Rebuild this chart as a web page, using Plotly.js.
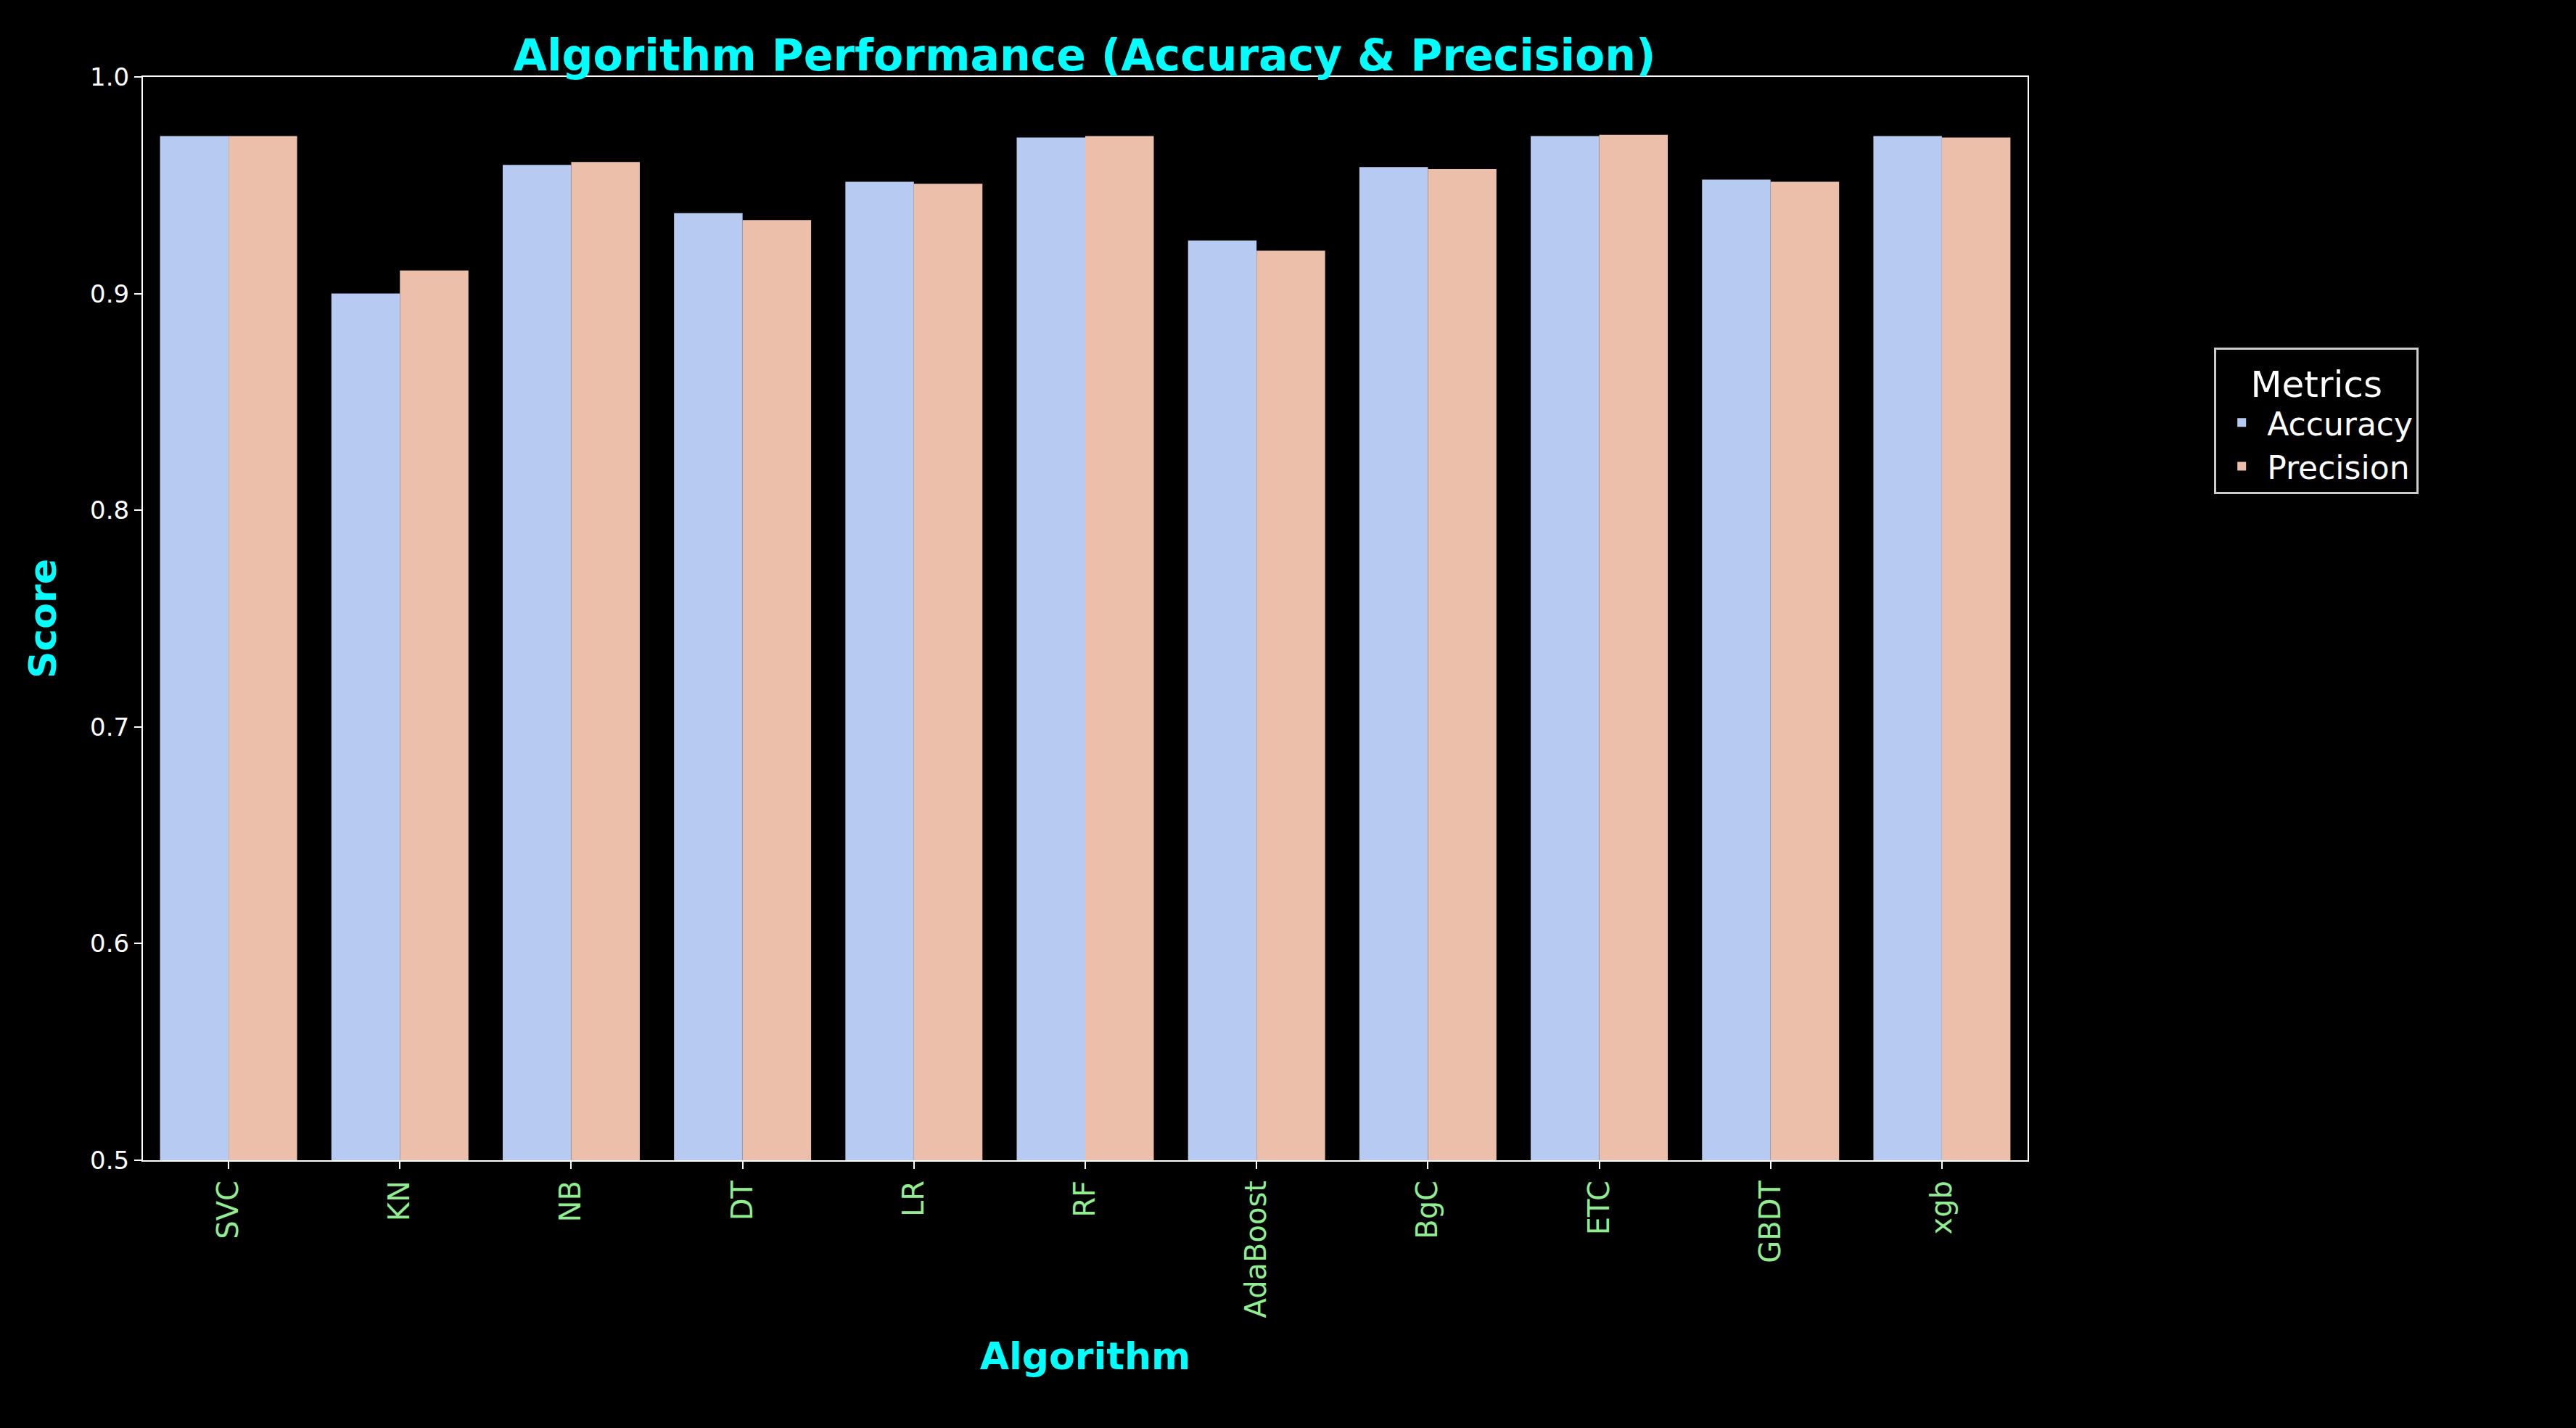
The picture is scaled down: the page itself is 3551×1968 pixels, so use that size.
<!DOCTYPE html>
<html>
<head>
<meta charset="utf-8">
<script src="https://cdn.plot.ly/plotly-3.0.1.min.js"></script>
<style>html,body{margin:0;padding:0;background:#000;}</style>
</head>
<body>
<div id="chart" style="width:3551px;height:1968px;"></div>
<script>
var algorithms = ['SVC', 'KN', 'NB', 'DT', 'LR', 'RF', 'AdaBoost', 'BgC', 'ETC', 'GBDT', 'xgb'];
var accuracy = [0.9727, 0.9000, 0.9594, 0.9371, 0.9516, 0.9720, 0.9245, 0.9584, 0.9727, 0.9526, 0.9727];
var precision = [0.9727, 0.9107, 0.9607, 0.9339, 0.9507, 0.9727, 0.9198, 0.9575, 0.9733, 0.9516, 0.9720];

var accTrace = {
    x: algorithms, y: accuracy, name: 'Accuracy', type: 'bar',
    marker: {color: 'rgb(183,203,242)', line: {width: 0}}
};
var precTrace = {
    x: algorithms, y: precision, name: 'Precision', type: 'bar',
    marker: {color: 'rgb(236,191,170)', line: {width: 0}}
};

Plotly.newPlot(document.getElementById('chart'), [accTrace, precTrace], {
    width: 3551, height: 1968,
    paper_bgcolor: '#000', plot_bgcolor: '#000',
    font: {family: 'DejaVu Sans', color: '#fff', size: 34},
    margin: {l: 197, r: 756, t: 106, b: 369},
    barmode: 'group', bargap: 0.2, bargroupgap: 0,
    title: {text: '<b>Algorithm Performance (Accuracy & Precision)</b>',
        font: {color: 'cyan', size: 60}, x: 0.421, xanchor: 'center', y: 0.972},
    xaxis: {
        title: {text: '<b>Algorithm</b>', font: {color: 'cyan', size: 52}, standoff: 35},
        tickangle: -90, tickfont: {color: '#90ee90', size: 40},
        showline: true, linecolor: '#fff', linewidth: 2, mirror: true,
        ticks: 'outside', tickcolor: '#fff', ticklen: 10, tickwidth: 2
    },
    yaxis: {
        title: {text: '<b>Score</b>', font: {color: 'cyan', size: 52}, standoff: 30},
        range: [0.5, 1.0], dtick: 0.1, tickformat: '.1f',
        showgrid: false, zeroline: false, tickfont: {size: 34},
        showline: true, linecolor: '#fff', linewidth: 2, mirror: true,
        ticks: 'outside', tickcolor: '#fff', ticklen: 10, tickwidth: 2
    },
    legend: {
        title: {text: 'Metrics', font: {size: 50}, side: 'top center'},
        x: 1.099, y: 0.75, xanchor: 'left', yanchor: 'top',
        bgcolor: '#000', bordercolor: '#ccc', borderwidth: 3,
        font: {size: 44}, itemwidth: 60, tracegroupgap: 30
    },
    showlegend: true
}, {displayModeBar: false});
</script>
</body>
</html>
